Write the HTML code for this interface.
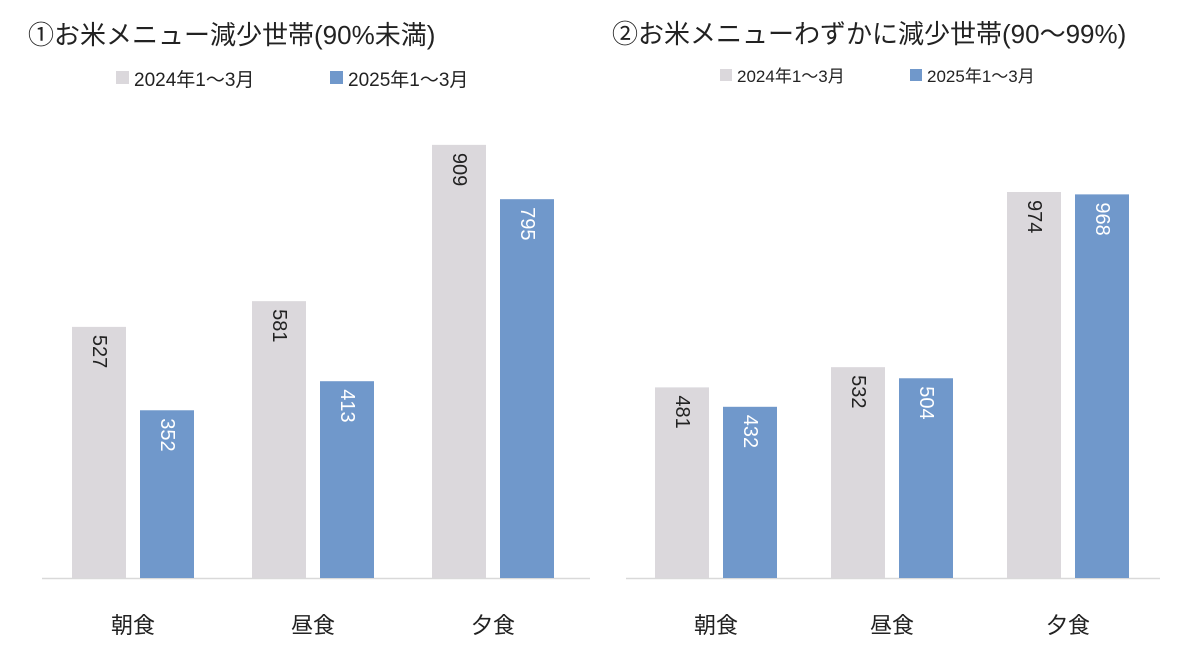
<!DOCTYPE html>
<html><head><meta charset="utf-8"><style>
body{margin:0;background:#fff;width:1200px;height:666px;overflow:hidden;font-family:"Liberation Sans","Noto Sans CJK JP",sans-serif;}
svg text{font-family:"Liberation Sans","Noto Sans CJK JP",sans-serif;}
</style></head><body>
<svg id="c" width="1200" height="666">
<text x="28" y="44" font-size="26" fill="#222">①お米メニュー減少世帯(90%未満)</text>
<rect x="116" y="71" width="13" height="13" fill="#dbd8dc"/>
<text x="134" y="86" font-size="19" fill="#222">2024年1～3月</text>
<rect x="330" y="71" width="13" height="13" fill="#7098cb"/>
<text x="348" y="86" font-size="19" fill="#222">2025年1～3月</text>
<text x="612" y="43" font-size="26" fill="#222">②お米メニューわずかに減少世帯(90～99%)</text>
<rect x="720" y="69" width="12" height="12" fill="#dbd8dc"/>
<text x="737" y="82" font-size="17" fill="#222">2024年1～3月</text>
<rect x="910" y="69" width="12" height="12" fill="#7098cb"/>
<text x="927" y="82" font-size="17" fill="#222">2025年1～3月</text>
</svg>
<script>
const categories=["朝食","昼食","夕食"];
const leftS2024=[527,581,909];
const leftS2025=[352,413,795];
const rightS2024=[481,532,974];
const rightS2025=[432,504,968];
const svg=document.getElementById('c');
const NS='http://www.w3.org/2000/svg';
function mk(t,a){const e=document.createElementNS(NS,t);for(const k in a)e.setAttribute(k,a[k]);svg.appendChild(e);return e;}
function chart(prefix,x0,x1,g0,gap,scale,s1,s2){
  const base=578;
  const y=v=>base-v*scale;
  const ax=mk('line',{x1:x0,x2:x1,y1:base+0.5,y2:base+0.5,stroke:'#d9d9d9','stroke-width':1.5});
  
  
  categories.forEach((c,i)=>{
    const gx=g0+i*gap;
    [[s1,'#dbd8dc','#222','2024',0],[s2,'#7098cb','#fff','2025',68]].forEach(([s,f,tc,yr,off])=>{
      const bx=gx+off, v=s[i];
      const r=mk('rect',{x:bx,y:y(v),width:54,height:base-y(v),fill:f});
      
      
      const tx=bx+27, ty=y(v)+8;
      const t=mk('text',{x:tx,y:ty,'font-size':20,fill:tc,transform:`rotate(90 ${tx} ${ty})`,'dominant-baseline':'central'});
      t.textContent=v;
      
      
    });
    const l=mk('text',{x:gx+61,y:633,'font-size':22,fill:'#222','text-anchor':'middle'});
    l.textContent=c;
    
    
  });
}
chart('left',42,590,72,180,0.4765,leftS2024,leftS2025);
chart('right',626,1160,655,176,0.3963,rightS2024,rightS2025);
</script>
</body></html>
